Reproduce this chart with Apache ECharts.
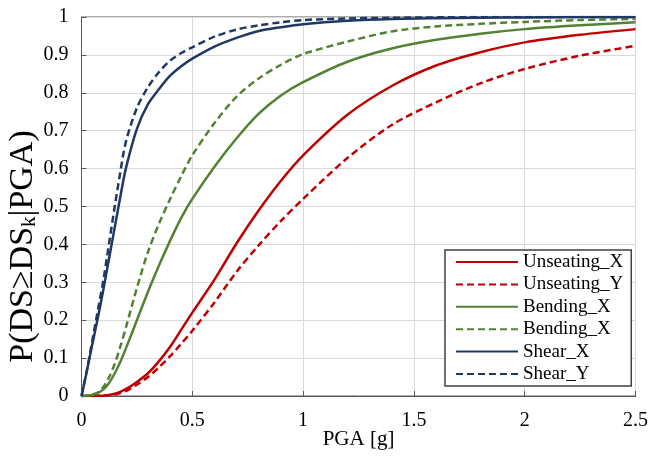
<!DOCTYPE html>
<html>
<head>
<meta charset="utf-8">
<script src="https://cdn.jsdelivr.net/npm/echarts@6/dist/echarts.min.js"></script>
<style>html,body{margin:0;padding:0;background:#fff}#c{width:648px;height:456px}</style>
</head>
<body>
<div id="c"></div>
<script>
const pga = [0, 0.025, 0.05, 0.075, 0.1, 0.125, 0.15, 0.175, 0.2, 0.25, 0.3, 0.35, 0.4, 0.45, 0.5, 0.6, 0.7, 0.8, 0.9, 1.0, 1.2, 1.4, 1.6, 1.8, 2.0, 2.25, 2.5];
const unseatingX = [0, 0, 0, 0.0005, 0.001, 0.003, 0.006, 0.011, 0.018, 0.037, 0.06, 0.092, 0.13, 0.175, 0.22, 0.307, 0.403, 0.49, 0.568, 0.635, 0.742, 0.818, 0.872, 0.907, 0.933, 0.953, 0.968];
const unseatingY = [0, 0, 0, 0.0005, 0.001, 0.002, 0.004, 0.008, 0.013, 0.03, 0.05, 0.076, 0.105, 0.138, 0.172, 0.247, 0.328, 0.398, 0.462, 0.52, 0.628, 0.715, 0.775, 0.825, 0.863, 0.898, 0.924];
const bendingX = [0, 0.001, 0.003, 0.008, 0.018, 0.035, 0.06, 0.09, 0.125, 0.2, 0.275, 0.345, 0.41, 0.47, 0.52, 0.605, 0.68, 0.745, 0.793, 0.828, 0.882, 0.917, 0.94, 0.956, 0.968, 0.978, 0.986];
const bendingX2 = [0, 0.001, 0.004, 0.01, 0.025, 0.05, 0.085, 0.13, 0.18, 0.285, 0.38, 0.455, 0.52, 0.58, 0.635, 0.72, 0.79, 0.838, 0.874, 0.902, 0.935, 0.962, 0.975, 0.982, 0.987, 0.992, 0.995];
const shearX = [0, 0.068, 0.14, 0.21, 0.285, 0.365, 0.445, 0.525, 0.6, 0.705, 0.77, 0.81, 0.845, 0.87, 0.89, 0.922, 0.945, 0.963, 0.973, 0.981, 0.99, 0.995, 0.997, 0.998, 0.999, 1, 1];
const shearY = [0, 0.07, 0.15, 0.23, 0.31, 0.405, 0.5, 0.59, 0.67, 0.76, 0.815, 0.855, 0.885, 0.905, 0.92, 0.948, 0.967, 0.978, 0.986, 0.992, 0.996, 0.998, 0.999, 1, 1, 1, 1];
const seriesNames = ['Unseating_X', 'Unseating_Y', 'Bending_X', 'Bending_X ', 'Shear_X', 'Shear_Y'];
const xTickLabels = ['0', '0.5', '1', '1.5', '2', '2.5'];

const FONT = 'Liberation Serif';
const RED = '#C00000', GREEN = '#548235', BLUE = '#203864';
const DASH = [7, 4];

function mk(name, vals, color, dashed) {
  return {
    name: name,
    type: 'line',
    data: pga.map((x, i) => [x, vals[i]]),
    symbol: 'none',
    smooth: 0.3,
    lineStyle: { color: color, width: 2.5, type: dashed ? DASH : 'solid' },
    itemStyle: { color: color },
    emphasis: { disabled: true }
  };
}

const chart = echarts.init(document.getElementById('c'), null, { renderer: 'canvas' });
chart.setOption({
  animation: false,
  backgroundColor: '#fff',
  grid: { left: 81.5, right: 12.5, top: 17, bottom: 60, outerBoundsMode: 'none', containLabel: false,
    show: true, borderColor: '#595959', borderWidth: 1, backgroundColor: 'transparent' },
  xAxis: {
    type: 'value', min: 0, max: 2.5, interval: 0.5,
    name: 'PGA [g]', nameLocation: 'middle', nameGap: 33, nameMoveOverlap: false,
    nameTextStyle: { fontFamily: FONT, fontSize: 21, color: '#000' },
    axisLine: { show: true, lineStyle: { color: '#595959', width: 1 } },
    axisTick: { show: true, inside: true, length: 5, lineStyle: { color: '#595959' } },
    axisLabel: { fontFamily: FONT, fontSize: 20, color: '#000', margin: 15,
      formatter: (v) => xTickLabels[Math.round(v / 0.5)] },
    splitLine: { show: true, lineStyle: { color: '#D9D9D9', width: 1 } }
  },
  yAxis: {
    type: 'value', min: 0, max: 1, interval: 0.1,
    name: '{n|P(DS≥DS}{s|k}{n||PGA)}', nameLocation: 'middle', nameGap: 41.5, nameRotate: 90, nameMoveOverlap: false,
    nameTextStyle: { fontFamily: FONT, fontSize: 34, color: '#000', padding: [0, 80, 0, 0],
      rich: {
        n: { fontFamily: FONT, fontSize: 34, color: '#000', lineHeight: 34, verticalAlign: 'middle' },
        s: { fontFamily: FONT, fontSize: 21, color: '#000', lineHeight: 21, verticalAlign: 'bottom' }
      } },
    axisLine: { show: true, lineStyle: { color: '#595959', width: 1 } },
    axisTick: { show: true, inside: true, length: 5, lineStyle: { color: '#595959' } },
    axisLabel: { fontFamily: FONT, fontSize: 20, color: '#000', margin: 13,
      formatter: (v) => String(Math.round(v * 10) / 10) },
    splitLine: { show: true, lineStyle: { color: '#D9D9D9', width: 1 } }
  },
  legend: {
    orient: 'vertical', left: 445, top: 250,
    data: seriesNames,
    itemWidth: 62, itemHeight: 14, itemGap: 2.4,
    padding: [2, 8, 2, 10],
    borderColor: '#404040', borderWidth: 1.5, backgroundColor: '#fff',
    itemStyle: { opacity: 0 },
    textStyle: { fontFamily: FONT, fontSize: 19, color: '#000', lineHeight: 20 },
    selectedMode: false
  },
  series: [
    mk(seriesNames[0], unseatingX, RED, false),
    mk(seriesNames[1], unseatingY, RED, true),
    mk(seriesNames[2], bendingX, GREEN, false),
    mk(seriesNames[3], bendingX2, GREEN, true),
    mk(seriesNames[4], shearX, BLUE, false),
    mk(seriesNames[5], shearY, BLUE, true)
  ]
});
</script>
</body>
</html>
